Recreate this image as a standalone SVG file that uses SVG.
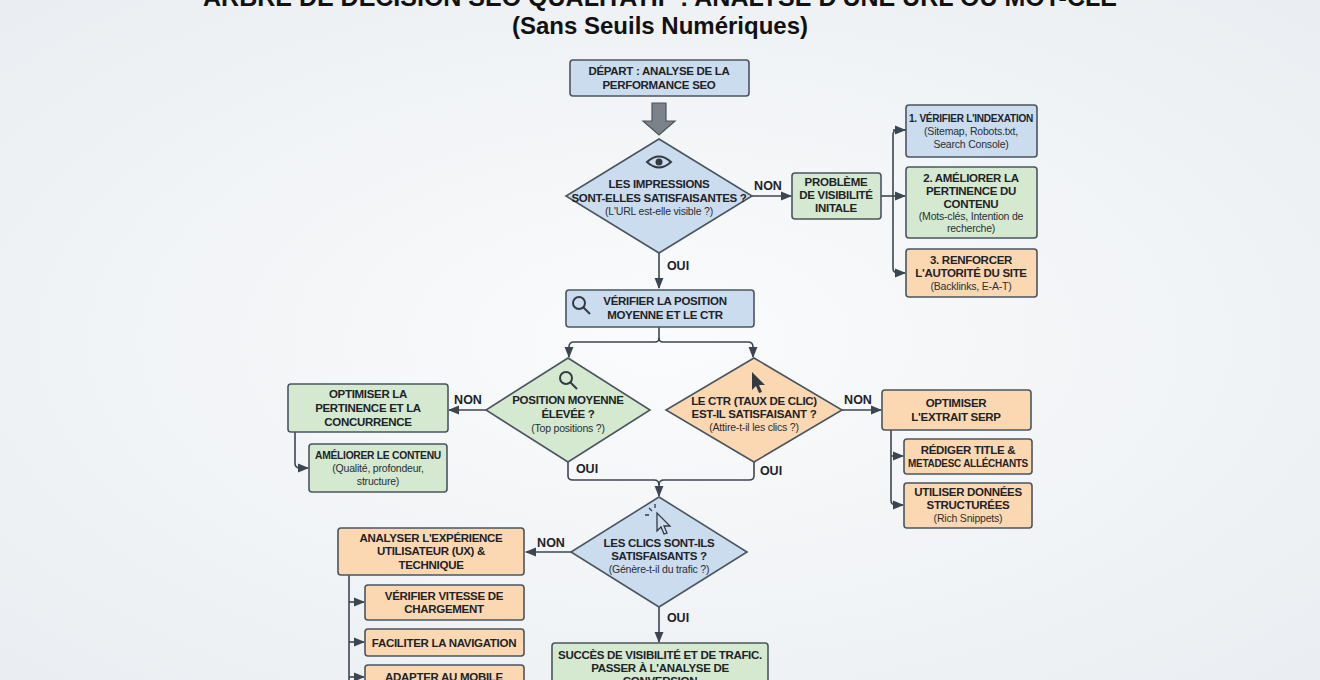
<svg xmlns="http://www.w3.org/2000/svg" width="1320" height="680" viewBox="0 0 1320 680">
<defs>
<radialGradient id="bg" cx="50%" cy="50%" r="75%"><stop offset="0" stop-color="#fafbfc"/><stop offset="1" stop-color="#e9edf1"/></radialGradient>
<marker id="ah" viewBox="0 0 10 10" refX="9" refY="5" markerWidth="7" markerHeight="7" orient="auto-start-reverse"><path d="M0,1 L10,5 L0,9 z" fill="#3c4650"/></marker>
<style>
.b{stroke:#4a5560;stroke-width:1.6}
.blue{fill:#cadcee}.green{fill:#d4e9d0}.orange{fill:#fbd8b1}
.t{font-family:"Liberation Sans",Arial,sans-serif;font-size:11.5px;font-weight:bold;fill:#1e2328;text-anchor:middle;letter-spacing:-0.3px}
.s{font-family:"Liberation Sans",Arial,sans-serif;font-size:10.5px;fill:#2a2f35;text-anchor:middle;letter-spacing:-0.2px}
.l{font-family:"Liberation Sans",Arial,sans-serif;font-size:12.5px;font-weight:bold;fill:#1e2328;text-anchor:middle}
.c{fill:none;stroke:#3c4650;stroke-width:1.6}
.ic{fill:none;stroke:#333a42;stroke-width:2}
</style>
</defs>
<rect width="1320" height="680" fill="url(#bg)"/>
<text x="660" y="6" style="font-family:'Liberation Sans',Arial,sans-serif;font-size:25px;font-weight:bold;fill:#111;text-anchor:middle">ARBRE DE DÉCISION SEO QUALITATIF : ANALYSE D'UNE URL OU MOT-CLÉ</text>
<text x="660" y="34" style="font-family:'Liberation Sans',Arial,sans-serif;font-size:24px;font-weight:bold;fill:#111;text-anchor:middle">(Sans Seuils Numériques)</text>

<g id="connectors">
<path d="M652,103 h14 v18 h9 l-16,14 l-16,-14 h9 z" fill="#7b8289" stroke="#4a5560" stroke-width="1.2"/>
<line class="c" x1="752" y1="196" x2="791" y2="196" marker-end="url(#ah)"/>
<path class="c" d="M881,196 H893"/>
<path class="c" d="M906,130 H898 Q893,130 893,135 V268 Q893,273 898,273 H905" marker-end="url(#ah)"/>
<line class="c" x1="893" y1="130" x2="905" y2="130" marker-end="url(#ah)"/>
<line class="c" x1="893" y1="196" x2="905" y2="196" marker-end="url(#ah)"/>
<line class="c" x1="659" y1="253" x2="659" y2="288" marker-end="url(#ah)"/>
<path class="c" d="M659,327 V338 Q659,342 655,342 H574 Q569,342 569,347 V357" marker-end="url(#ah)"/>
<path class="c" d="M659,338 Q659,342 663,342 H748 Q753,342 753,347 V357" marker-end="url(#ah)"/>
<line class="c" x1="486" y1="410" x2="449" y2="410" marker-end="url(#ah)"/>
<path class="c" d="M295,432 V463 Q295,468 300,468 H308" marker-end="url(#ah)"/>
<line class="c" x1="842" y1="410" x2="881" y2="410" marker-end="url(#ah)"/>
<path class="c" d="M891,430 V500 Q891,505 896,505 H903" marker-end="url(#ah)"/>
<line class="c" x1="891" y1="456" x2="903" y2="456" marker-end="url(#ah)"/>
<path class="c" d="M568,462 V476 Q568,480 573,480 H654 Q659,480 659,485 V496" marker-end="url(#ah)"/>
<path class="c" d="M754,462 V476 Q754,480 749,480 H664 Q659,480 659,485"/>
<line class="c" x1="571" y1="552" x2="526" y2="552" marker-end="url(#ah)"/>
<path class="c" d="M349,575 V680"/>
<line class="c" x1="349" y1="602" x2="364" y2="602" marker-end="url(#ah)"/>
<line class="c" x1="349" y1="642" x2="364" y2="642" marker-end="url(#ah)"/>
<line class="c" x1="349" y1="677" x2="364" y2="677" marker-end="url(#ah)"/>
<line class="c" x1="659" y1="607" x2="659" y2="642" marker-end="url(#ah)"/>
<text class="l" x="768" y="190">NON</text>
<text class="l" x="678" y="270">OUI</text>
<text class="l" x="468" y="404">NON</text>
<text class="l" x="858" y="404">NON</text>
<text class="l" x="587" y="473">OUI</text>
<text class="l" x="771" y="475">OUI</text>
<text class="l" x="551" y="547">NON</text>
<text class="l" x="678" y="622">OUI</text>
</g>

<g id="start"><rect class="b blue" x="570" y="60" width="179" height="36" rx="3"/>
<text class="t" x="659" y="75">DÉPART : ANALYSE DE LA</text><text class="t" x="659" y="89">PERFORMANCE SEO</text></g>

<g id="d1"><polygon class="b blue" points="659,139 752,196 659,253 566,196"/>
<path class="ic" d="M647,162 Q659,151 671,162 Q659,173 647,162 z"/><circle cx="659" cy="162" r="3.5" fill="#333a42"/>
<text class="t" x="659" y="188">LES IMPRESSIONS</text><text class="t" x="659" y="202">SONT-ELLES SATISFAISANTES ?</text><text class="s" x="659" y="215">(L'URL est-elle visible ?)</text></g>

<g id="pb"><rect class="b green" x="792" y="173" width="89" height="46" rx="3"/>
<text class="t" x="836" y="186">PROBLÈME</text><text class="t" x="836" y="199">DE VISIBILITÉ</text><text class="t" x="836" y="212">INITALE</text></g>

<g id="r1"><rect class="b blue" x="906" y="105" width="131" height="52" rx="3"/>
<text class="t" x="971" y="122" textLength="124" lengthAdjust="spacingAndGlyphs">1. VÉRIFIER L'INDEXATION</text><text class="s" x="971" y="135">(Sitemap, Robots.txt,</text><text class="s" x="971" y="148">Search Console)</text></g>
<g id="r2"><rect class="b green" x="906" y="167" width="131" height="71" rx="3"/>
<text class="t" x="971" y="182">2. AMÉLIORER LA</text><text class="t" x="971" y="195">PERTINENCE DU</text><text class="t" x="971" y="208">CONTENU</text><text class="s" x="971" y="220">(Mots-clés, Intention de</text><text class="s" x="971" y="232">recherche)</text></g>
<g id="r3"><rect class="b orange" x="906" y="249" width="131" height="48" rx="3"/>
<text class="t" x="971" y="264">3. RENFORCER</text><text class="t" x="971" y="277">L'AUTORITÉ DU SITE</text><text class="s" x="971" y="290">(Backlinks, E-A-T)</text></g>

<g id="pos"><rect class="b blue" x="566" y="290" width="188" height="37" rx="3"/>
<circle class="ic" cx="579" cy="303" r="6"/><line class="ic" x1="583" y1="307" x2="590" y2="314" stroke-width="3"/>
<text class="t" x="665" y="305">VÉRIFIER LA POSITION</text><text class="t" x="665" y="319">MOYENNE ET LE CTR</text></g>

<g id="d2"><polygon class="b green" points="568,358 650,410 568,462 486,410"/>
<circle class="ic" cx="566" cy="378" r="6"/><line class="ic" x1="570" y1="382" x2="577" y2="389" stroke-width="3"/>
<text class="t" x="568" y="404">POSITION MOYENNE</text><text class="t" x="568" y="418">ÉLEVÉE ?</text><text class="s" x="568" y="432">(Top positions ?)</text></g>

<g id="d3"><polygon class="b orange" points="754,358 842,410 754,462 666,410"/>
<path d="M752,372 L752,390 L756,386 L759,393 L762,392 L759,385 L765,385 z" fill="#333a42"/>
<text class="t" x="754" y="405">LE CTR (TAUX DE CLIC)</text><text class="t" x="754" y="418">EST-IL SATISFAISANT ?</text><text class="s" x="754" y="431">(Attire-t-il les clics ?)</text></g>

<g id="opt"><rect class="b green" x="288" y="384" width="160" height="48" rx="3"/>
<text class="t" x="368" y="398">OPTIMISER LA</text><text class="t" x="368" y="412">PERTINENCE ET LA</text><text class="t" x="368" y="426">CONCURRENCE</text></g>
<g id="amel"><rect class="b green" x="309" y="444" width="138" height="48" rx="3"/>
<text class="t" x="378" y="459" textLength="126" lengthAdjust="spacingAndGlyphs">AMÉLIORER LE CONTENU</text><text class="s" x="378" y="472">(Qualité, profondeur,</text><text class="s" x="378" y="485">structure)</text></g>

<g id="serp"><rect class="b orange" x="882" y="390" width="149" height="40" rx="3"/>
<text class="t" x="956" y="407">OPTIMISER</text><text class="t" x="956" y="421">L'EXTRAIT SERP</text></g>
<g id="title"><rect class="b orange" x="904" y="439" width="128" height="35" rx="3"/>
<text class="t" x="968" y="454">RÉDIGER TITLE &amp;</text><text class="t" x="968" y="467" textLength="120" lengthAdjust="spacingAndGlyphs">METADESC ALLÉCHANTS</text></g>
<g id="struct"><rect class="b orange" x="904" y="483" width="128" height="45" rx="3"/>
<text class="t" x="968" y="496">UTILISER DONNÉES</text><text class="t" x="968" y="509">STRUCTURÉES</text><text class="s" x="968" y="522">(Rich Snippets)</text></g>

<g id="d4"><polygon class="b blue" points="659,497 747,552 659,607 571,552"/>
<path d="M657,513 L657,531 L661,527 L664,534 L667,533 L664,526 L670,526 z" fill="none" stroke="#333a42" stroke-width="1.3"/>
<path d="M652,511 l-3,-3 M655,508 v-4 M649,515 h-4" stroke="#333a42" stroke-width="1.3"/>
<text class="t" x="659" y="547">LES CLICS SONT-ILS</text><text class="t" x="659" y="560">SATISFAISANTS ?</text><text class="s" x="659" y="573">(Génère-t-il du trafic ?)</text></g>

<g id="ux"><rect class="b orange" x="338" y="528" width="186" height="47" rx="3"/>
<text class="t" x="431" y="542">ANALYSER L'EXPÉRIENCE</text><text class="t" x="431" y="555">UTILISATEUR (UX) &amp;</text><text class="t" x="431" y="569">TECHNIQUE</text></g>
<g id="vit"><rect class="b orange" x="365" y="585" width="159" height="35" rx="3"/>
<text class="t" x="444" y="600">VÉRIFIER VITESSE DE</text><text class="t" x="444" y="613">CHARGEMENT</text></g>
<g id="nav"><rect class="b orange" x="365" y="629" width="159" height="27" rx="3"/>
<text class="t" x="444" y="647">FACILITER LA NAVIGATION</text></g>
<g id="mob"><rect class="b orange" x="365" y="665" width="159" height="35" rx="3"/>
<text class="t" x="444" y="681">ADAPTER AU MOBILE</text></g>

<g id="succ"><rect class="b green" x="552" y="643" width="216" height="57" rx="3"/>
<text class="t" x="660" y="659">SUCCÈS DE VISIBILITÉ ET DE TRAFIC.</text><text class="t" x="660" y="672">PASSER À L'ANALYSE DE</text><text class="t" x="660" y="685">CONVERSION</text></g>
</svg>
